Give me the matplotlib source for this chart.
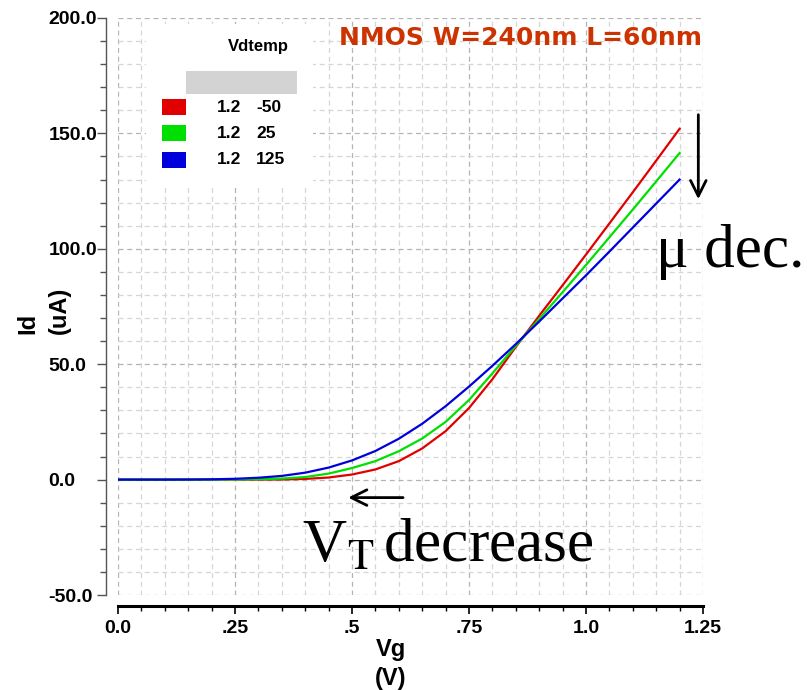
import matplotlib
matplotlib.use("Agg")
import matplotlib.pyplot as plt
from matplotlib.patches import Rectangle
from matplotlib.ticker import MultipleLocator

plt.rcParams['font.family'] = ['Liberation Sans', 'DejaVu Sans']
plt.rcParams['mathtext.fontset'] = 'stix'

# gate voltage (V)
vg = [0.00, 0.05, 0.10, 0.15, 0.20, 0.25, 0.30, 0.35, 0.40, 0.45, 0.50, 0.55, 0.60,
      0.65, 0.70, 0.75, 0.80, 0.85, 0.90, 0.95, 1.00, 1.05, 1.10, 1.15, 1.20]
# drain current (uA) for each temperature
id_m50 = [0, 0, 0, 0, 0, 0, 0, 0.05, 0.3, 0.9, 2.2, 4.4, 8.0,
          13.5, 21.0, 31.0, 43.5, 57.5, 71.0, 84.2, 97.5, 111.0, 124.5, 138.2, 152.0]
id_25 = [0, 0, 0, 0, 0, 0.05, 0.15, 0.45, 1.1, 2.6, 5.0, 8.0, 12.3,
         17.8, 25.0, 34.5, 46.0, 58.0, 69.6, 81.2, 93.0, 105.0, 117.0, 129.2, 141.5]
id_125 = [0, 0, 0, 0.03, 0.12, 0.35, 0.8, 1.6, 3.0, 5.2, 8.3, 12.4, 17.7,
          24.2, 31.8, 40.3, 49.3, 58.7, 68.5, 78.5, 88.5, 98.8, 109.2, 119.6, 130.0]

series = [("1.2", "-50", id_m50, "#e00000"),
          ("1.2", "25", id_25, "#00e000"),
          ("1.2", "125", id_125, "#0000dd")]

x_ticks = [0.0, 0.25, 0.5, 0.75, 1.0, 1.25]
x_labels = ["0.0", ".25", ".5", ".75", "1.0", "1.25"]
y_ticks = [-50, 0, 50, 100, 150, 200]
y_labels = ["-50.0", "0.0", "50.0", "100.0", "150.0", "200.0"]

W, H = 807, 690
fig = plt.figure(figsize=(W / 100, H / 100), dpi=100)
ax = fig.add_axes([118 / W, 1 - 595 / H, 585 / W, 577 / H])


def fpos(x, y):
    # pixel position -> figure fraction
    return x / W, 1 - y / H


for v, t, cur, col in series:
    ax.plot(vg, cur, color=col, lw=1.6, zorder=3)

ax.set_xlim(0, 1.25)
ax.set_ylim(-50, 200)
ax.set_xticks(x_ticks)
ax.set_xticklabels(x_labels)
ax.set_yticks(y_ticks)
ax.set_yticklabels(y_labels)
ax.xaxis.set_minor_locator(MultipleLocator(0.05))
ax.yaxis.set_minor_locator(MultipleLocator(10))

ax.set_axisbelow(True)
ax.grid(which='major', color='#b4b4b4', lw=0.9, linestyle=(0, (4, 3)))
ax.grid(which='minor', color='#d6d6d6', lw=0.9, linestyle=(0, (4, 3)))

for s in ['top', 'right']:
    ax.spines[s].set_visible(False)
ax.spines['left'].set_position(('outward', 8.6))
ax.spines['left'].set_color('#555555')
ax.spines['left'].set_linewidth(1.0)
ax.spines['bottom'].set_position(('outward', 7.9))
ax.spines['bottom'].set_linewidth(2.2)

ax.tick_params(axis='x', which='major', length=5.8, width=1.2, pad=4,
               labelsize=14)
ax.tick_params(axis='x', which='minor', length=3.6, width=1.0)
ax.tick_params(axis='y', which='major', length=6.5, width=1.0, color='#555555',
               pad=35, labelsize=14)
ax.tick_params(axis='y', which='minor', length=4.3, width=1.0, color='#555555')
for lab in ax.get_xticklabels() + ax.get_yticklabels():
    lab.set_fontweight('bold')
for lab in ax.get_yticklabels():
    lab.set_ha('left')

ax.set_xlabel("Vg\n(V)", fontsize=17, fontweight='bold', linespacing=1.3)
ax.xaxis.set_label_coords(273 / 585, -0.075)
ax.set_ylabel("Id\n(uA)", fontsize=17, fontweight='bold', multialignment='left',
              linespacing=1.5)
ax.yaxis.set_label_coords(-47 / 585, 0.494)

# legend block
ax.add_patch(Rectangle((146 / W, 1 - 186 / H), (313 - 146) / W, (186 - 24) / H,
                       transform=fig.transFigure, facecolor='white',
                       edgecolor='none', zorder=2))
fig.text(*fpos(258, 46), "Vdtemp", fontsize=12, fontweight='bold',
         ha='center', va='center', zorder=5)
fig.patches.append(Rectangle(fpos(186, 94), 111 / W, 23 / H,
                             transform=fig.transFigure, facecolor='#d3d3d3',
                             edgecolor='none'))
rows = [107, 133, 160]
for (v, t, cur, col), yy in zip(series, rows):
    fig.patches.append(Rectangle(fpos(162, yy + 8), 24 / W, 16 / H,
                                 transform=fig.transFigure, facecolor=col,
                                 edgecolor='none'))
    fig.text(*fpos(217, yy), v, fontsize=12.5, fontweight='bold', va='center')
    fig.text(*fpos(256, yy), t, fontsize=12.5, fontweight='bold', va='center')

fig.text(*fpos(702, 38), "NMOS W=240nm L=60nm", color='#cc3300', fontsize=18,
         fontweight='bold', ha='right', va='center',
         family=['DejaVu Sans'])

# annotations
ax.annotate("", xy=(1.240, 120.3), xytext=(1.240, 159.3),
            arrowprops=dict(arrowstyle='->', lw=2, color='black',
                            mutation_scale=28), annotation_clip=False)
ax.text(1.15, 92.2, "\u03bc dec.", fontsize=44, family=['Liberation Serif'],
        va='baseline', ha='left', clip_on=False)
ax.annotate("", xy=(0.486, -7.8), xytext=(0.615, -7.8),
            arrowprops=dict(arrowstyle='->', lw=2, color='black',
                            mutation_scale=28), annotation_clip=False)
ax.text(0.394, -35.5, r"V$_\mathrm{T}\,$decrease", fontsize=44,
        family=['Liberation Serif'], va='baseline', ha='left', clip_on=False)

fig.savefig("out.png", dpi=100)
